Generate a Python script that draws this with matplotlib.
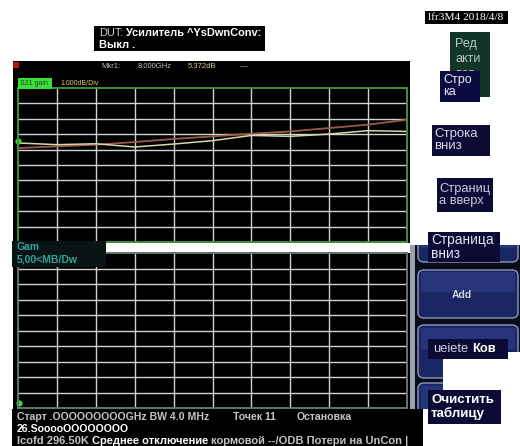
import numpy as np
import matplotlib.pyplot as plt
from matplotlib.patches import Rectangle, FancyBboxPatch

plt.rcParams['font.family'] = ['Liberation Sans', 'DejaVu Sans']

W, H = 520, 446

# sweep: 11 points, 0 .. 26.5 GHz
freq_ghz = [0.0, 2.65, 5.3, 7.95, 10.6, 13.25, 15.9, 18.55, 21.2, 23.85, 26.5]
# S21 gain (dB), live trace and memory trace
gain_db = [5.00, 5.11, 5.22, 5.39, 5.59, 5.76, 5.93, 6.08, 6.30, 6.52, 6.84]
memory_db = [5.33, 5.22, 5.28, 5.07, 5.26, 5.48, 5.82, 5.76, 5.91, 6.13, 6.08]

gain_scale = 1.0    # dB/div, upper panel
gamma_scale = 5.0   # dB/div, lower panel
n_div = 10

softkeys = ['Add']


def fx(x):
    return x / W


def fy(y):
    return 1 - y / H


def rect(x0, y0, x1, y1, color, z=1):
    fig.add_artist(Rectangle((fx(x0), fy(y1)), (x1 - x0) / W, (y1 - y0) / H,
                             transform=fig.transFigure, facecolor=color,
                             edgecolor='none', zorder=z))


def button(x0, y0, x1, y1, z=1.5):
    fig.add_artist(FancyBboxPatch((fx(x0), fy(y1)), (x1 - x0) / W, (y1 - y0) / H,
                                  boxstyle='round,pad=0,rounding_size=0.012',
                                  transform=fig.transFigure, facecolor='#1b2762',
                                  edgecolor='#8e98bc', linewidth=1.0, zorder=z))
    # lighter upper half of the key
    fig.add_artist(Rectangle((fx(x0 + 3), fy(y0 + (y1 - y0) * 0.45)), (x1 - x0 - 6) / W,
                             (y1 - y0) * 0.4 / H, transform=fig.transFigure,
                             facecolor='#26357a', edgecolor='none', zorder=z + 0.01))


def txt(x, y, s, z=6, **kw):
    kw.setdefault('va', 'center')
    kw.setdefault('ha', 'left')
    return fig.text(fx(x), fy(y), s, zorder=z, **kw)


def run(x, y, pieces, size):
    # pieces: (text, colour, weight), laid out one after another
    r = fig.canvas.get_renderer()
    gap = size * 1.389 * 0.28
    for s, c, w in pieces:
        t = txt(x, y, s, color=c, fontsize=size, fontweight=w)
        x = t.get_window_extent(r).x1 + gap


fig = plt.figure(figsize=(W / 100, H / 100), dpi=100)
fig.patch.set_facecolor('white')

# instrument screen background
rect(13, 61, 410, 243, 'black', z=-1)
rect(13, 253, 410, 409, 'black', z=-1)


def grid_axes(top, bottom, edge):
    ax = fig.add_axes([fx(18), fy(bottom), (407 - 18) / W, (bottom - top) / H])
    ax.set_facecolor('black')
    ax.grid(True, color='#d2d2d2', linewidth=1.0)
    ax.tick_params(length=0, labelleft=False, labelbottom=False)
    for s in ax.spines.values():
        s.set_color(edge)
        s.set_linewidth(1.4)
    return ax


# upper panel: S21 gain
ax1 = grid_axes(88, 242, '#3f8f3f')
ref = -1.1
ax1.set_ylim(ref, ref + n_div * gain_scale)
ax1.set_xlim(freq_ghz[0], freq_ghz[-1])
ax1.set_xticks(np.linspace(freq_ghz[0], freq_ghz[-1], n_div + 1)[1:-1])
ax1.set_yticks(ref + np.arange(1, n_div) * gain_scale)
ax1.plot(freq_ghz, gain_db, color='#9c5a48', linewidth=1.3)
ax1.plot(freq_ghz, memory_db, color='#d8d6a8', linewidth=1.1)
ax1.plot([freq_ghz[0]], [memory_db[0] + 0.1], marker='o', color='#3ed43e',
         markersize=3.5, clip_on=False)

# lower panel: empty gamma grid
ax2 = grid_axes(253, 408, '#5e7a6a')
ax2.set_ylim(-n_div * gamma_scale / 2, n_div * gamma_scale / 2)
ax2.set_yticks(np.arange(-4, 5) * gamma_scale)
ax2.set_xlim(0, n_div)
ax2.set_xticks(np.arange(1, n_div))
ax2.plot([0.02], [-n_div * gamma_scale / 2 + 1.5], marker='o', color='#3ed43e',
         markersize=3.5, clip_on=False)

# marker readout and trace label
rect(13, 62, 19, 68, '#b01818', z=2)
txt(101, 67, 'Mkr1:', color='#bdbdbd', fontsize=5.5)
txt(138, 67, '8.000GHz', color='#bdbdbd', fontsize=5.5)
txt(188, 67, '5.372dB', color='#d6c890', fontsize=5.5)
txt(240, 67, '—', color='#bdbdbd', fontsize=5.5)
rect(18, 78, 52, 89, '#3adf3a', z=2)
txt(20, 83.5, 'S21 gain', color='#1a4a1a', fontsize=5)
txt(60, 83.5, '1.000dB/Div', color='#e0d070', fontsize=5)

# softkey column
rect(413, 245, 520, 409, '#080b18', z=1)
rect(410, 245, 415, 409, '#9aa1ae', z=1.2)
button(418, 236, 518, 262)
button(418, 270, 518, 318)
button(418, 325, 518, 378)
button(418, 383, 518, 446)
txt(462, 295, softkeys[0], color='#d0d4e0', fontsize=7.5, fontweight='bold',
    ha='center', z=3)
rect(443, 352, 520, 446, 'white', z=2)
rect(423, 409, 443, 446, 'white', z=2)
rect(410, 225, 520, 245, 'white', z=2)

# overlay captions
rect(94, 26, 265, 51, 'black', z=4)
run(99, 33, [('DUT:', '#d0d0d0', 'normal'),
             ('Усилитель ^YsDwnConv:', 'white', 'bold')], 7.9)
txt(99, 45, 'Выкл .', color='white', fontsize=7.9, fontweight='bold')

rect(425, 11, 508, 24, 'black', z=4)
txt(428, 17.5, 'lfr3M4 2018/4/8', color='white', fontsize=8.2,
    family=['Liberation Serif'])

# "Редактировать" key sits partly under the "Строка" key
rect(450, 32, 490, 97, '#12352a', z=4)
txt(455, 59, 'Ред\nакти\nвов', color='#b8c8c0', fontsize=9, linespacing=1.3, z=4.2)
rect(440, 71, 480, 102, '#0b0b42', z=4.5)
txt(443, 86, 'Стро\nка', color='#e8e8f4', fontsize=9, linespacing=1.1, z=6.5)

rect(432, 125, 490, 156, '#0b0b36', z=4)
txt(434, 140, 'Строка\nвниз', color='#d4d6e4', fontsize=9.5, linespacing=1.05)

rect(437, 178, 493, 212, '#0b0b36', z=4)
txt(439, 195, 'Страниц\nа вверх', color='#c8cad8', fontsize=9.3, linespacing=1.1)

rect(428, 232, 500, 262, '#0b0b36', z=4)
txt(431, 247, 'Страница\nвниз', color='#e4e6f0', fontsize=9.8, linespacing=1.0)

rect(428, 339, 508, 359, '#0b0b36', z=4)
run(433, 349, [('ueiete', '#d0d2dc', 'normal'), ('Ков', 'white', 'bold')], 9.3)

rect(428, 390, 501, 424, '#0b0b36', z=4)
txt(431, 407, 'Очистить\nтаблицу', color='white', fontsize=9.6, fontweight='bold',
    linespacing=1.05)

rect(12, 241, 106, 267, '#0a1414', z=4)
txt(17, 247.5, 'Gam', color='#2ea59a', fontsize=7.5, fontweight='bold')
txt(17, 259.5, '5,00<MB/Dw', color='#2ea59a', fontsize=7.5, fontweight='bold')

# sweep status bar
rect(12, 409, 423, 446, 'black', z=4)
txt(17, 417, 'Старт .OOOOOOOOOGHz BW 4.0 MHz', color='#c4c4c4', fontsize=7.6,
    fontweight='bold')
txt(233, 417, 'Точек 11', color='#c4c4c4', fontsize=7.6, fontweight='bold')
txt(297, 417, 'Остановка', color='#c4c4c4', fontsize=7.6, fontweight='bold')
txt(17, 429, '26.SooooOOOOOOOO', color='white', fontsize=7.6, fontweight='bold')
run(17, 441, [('lcofd 296.50K', '#c4c4c4', 'bold'),
              ('Среднее отключение', 'white', 'bold'),
              ('кормовой --/ODB Потери на UnCon |', '#c4c4c4', 'bold')], 8.0)

fig.savefig('out.png', dpi=100, facecolor=fig.get_facecolor())
